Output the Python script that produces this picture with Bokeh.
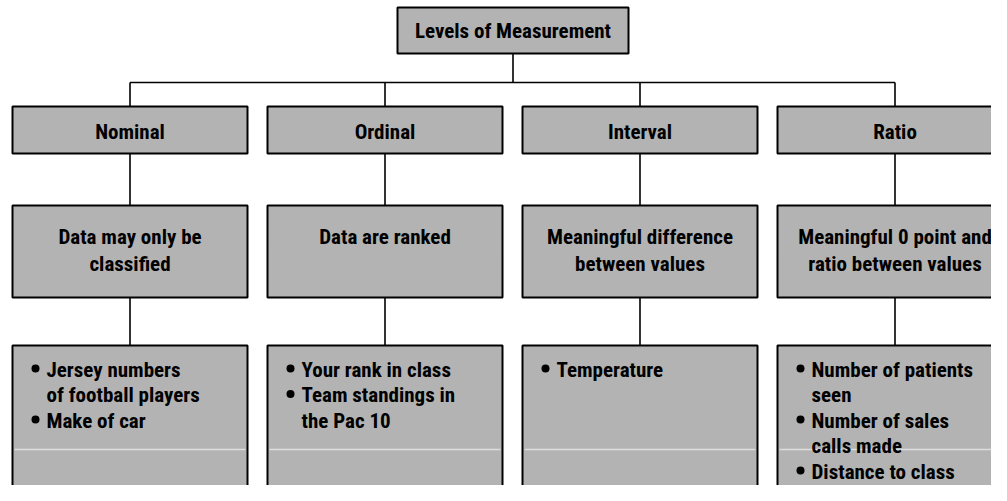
from bokeh.plotting import figure
from bokeh.models import ColumnDataSource, Range1d
from bokeh.core.properties import value
from bokeh.embed import file_html
from bokeh.resources import INLINE

# ---- data ----
root_title = "Levels of Measurement"
levels = ["Nominal", "Ordinal", "Interval", "Ratio"]
descriptions = [
    ["Data may only be", "classified"],
    ["Data are ranked"],
    ["Meaningful difference", "between values"],
    ["Meaningful 0 point and", "ratio between values"],
]
examples = [
    [["Jersey numbers", "of football players"], ["Make of car"]],
    [["Your rank in class"], ["Team standings in", "the Pac 10"]],
    [["Temperature"]],
    [["Number of patients", "seen"], ["Number of sales", "calls made"], ["Distance to class"]],
]

# ---- layout (reference pixel coordinates) ----
FONT = "Roboto Condensed, DejaVu Sans Condensed, Lato"
FSIZE = "21px"
TXT_SHIFT = 8          # renderer places alphabetic text a little low
FILL = "#b3b3b3"
col_left0, col_step, col_w = 12, 255, 235
root_box = (397, 628, 7, 53)
row1 = (106, 153)
row2 = (205, 297)
row3 = (345, 520)
bus_y = 82
ex_y0, ex_dy = 377, 25.5

p = figure(width=991, height=485, output_backend="svg", toolbar_location=None,
           x_range=Range1d(0, 991), y_range=Range1d(485, 0), min_border=0)
p.axis.visible = False
p.grid.visible = False
p.outline_line_color = None
p.background_fill_color = "white"

lefts = [col_left0 + col_step * i for i in range(len(levels))]
rights = [l + col_w for l in lefts]
centers = [(l + r) / 2 for l, r in zip(lefts, rights)]
root_cx = (root_box[0] + root_box[1]) / 2

# connectors
sx0, sy0, sx1, sy1 = [root_cx, centers[0]], [root_box[3], bus_y], [root_cx, centers[-1]], [bus_y, bus_y]
for c in centers:
    sx0 += [c, c, c]
    sy0 += [bus_y, row1[1], row2[1]]
    sx1 += [c, c, c]
    sy1 += [row1[0], row2[0], row3[0]]
p.segment(x0=sx0, y0=sy0, x1=sx1, y1=sy1, line_color="black", line_width=1.6)

# boxes
qs = dict(left=[root_box[0]], right=[root_box[1]], top=[root_box[2]], bottom=[root_box[3]])
for l, r in zip(lefts, rights):
    for (t, b) in (row1, row2, row3):
        qs["left"].append(l); qs["right"].append(r); qs["top"].append(t); qs["bottom"].append(b)
p.quad(source=ColumnDataSource(qs), fill_color=FILL, line_color="black", line_width=2)

# light scan streak inside the bottom boxes
p.segment(x0=[l + 2 for l in lefts], x1=[r - 2 for r in rights], y0=[449] * 4, y1=[449] * 4,
          line_color="#dedede", line_width=1.5)

# texts
tx, ty, tt = [root_cx], [38], [root_title]
for c, name in zip(centers, levels):
    tx.append(c); ty.append(139); tt.append(name)
for c, lines in zip(centers, descriptions):
    for k, s in enumerate(lines):
        tx.append(c); ty.append(244 + 27 * k); tt.append(s)
p.text(x=tx, y=[v - TXT_SHIFT for v in ty], text=tt, text_align="center", text_baseline="alphabetic",
       text_font=value(FONT), text_font_style="bold", text_font_size=FSIZE, text_color="black")

ex_x, ex_y, ex_t, bx, by = [], [], [], [], []
for l, items in zip(lefts, examples):
    k = 0
    for item in items:
        for j, s in enumerate(item):
            yb = ex_y0 + ex_dy * k
            if j == 0:
                bx.append(l + 23); by.append(yb - 9)
            ex_x.append(l + 34); ex_y.append(yb - TXT_SHIFT); ex_t.append(s)
            k += 1
p.text(x=ex_x, y=ex_y, text=ex_t, text_align="left", text_baseline="alphabetic",
       text_font=value(FONT), text_font_style="bold", text_font_size=FSIZE, text_color="black")
p.scatter(x=bx, y=by, marker="circle", size=8, fill_color="black", line_color=None)

open("out.html", "w").write(file_html(p, INLINE))
